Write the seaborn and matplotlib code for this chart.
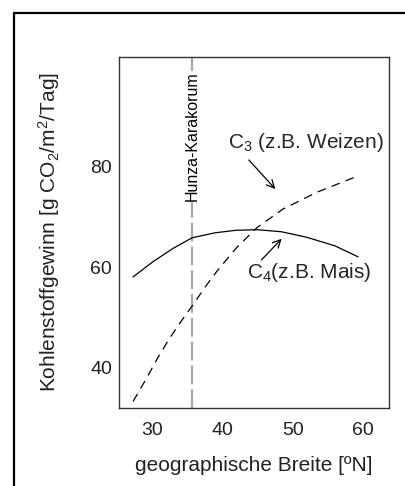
import numpy as np
import pandas as pd
import seaborn as sns
import matplotlib.pyplot as plt
from matplotlib.lines import Line2D

# Breitengrade und Kohlenstoffgewinn
c4_breite = [27.3, 30.0, 33.0, 35.7, 39.0, 42.0, 45.0, 48.4, 52.0, 56.0, 59.3]
c4_gewinn = [58.1, 61.0, 63.8, 65.9, 66.9, 67.4, 67.5, 67.1, 66.0, 64.3, 62.1]

c3_breite = [27.3, 29.0, 30.9, 32.5, 34.3, 35.8, 37.5, 39.2, 42.0, 44.9, 48.6, 53.5, 58.9]
c3_gewinn = [33.3, 37.4, 42.2, 45.9, 49.6, 52.5, 56.0, 59.2, 63.9, 67.9, 71.6, 75.0, 78.0]

hunza_breite = 35.7
x_ticks = [30, 40, 50, 60]
y_ticks = [40, 60, 80]

df_c4 = pd.DataFrame({"Breite": c4_breite, "Gewinn": c4_gewinn})
df_c3 = pd.DataFrame({"Breite": c3_breite, "Gewinn": c3_gewinn})

sns.set_theme(style="white")
plt.rcParams["font.family"] = ["Liberation Sans", "DejaVu Sans"]
plt.rcParams["mathtext.fontset"] = "custom"
plt.rcParams["mathtext.rm"] = "Liberation Sans"
plt.rcParams["mathtext.it"] = "Liberation Sans"

fig = plt.figure(figsize=(4.06, 4.86), dpi=100)
ax = fig.add_axes([119 / 406, 1 - 408 / 486, 270 / 406, 351 / 486])

# Rahmen der Abbildung (links und oben)
fig.add_artist(Line2D([14 / 406, 14 / 406], [0, 1 - 13 / 486], transform=fig.transFigure,
                      color="black", lw=1.6))
fig.add_artist(Line2D([14 / 406, 1], [1 - 13 / 486, 1 - 13 / 486], transform=fig.transFigure,
                      color="black", lw=1.6))

ax.axvline(hunza_breite, color="#a8a8a8", lw=1.6, linestyle=(0, (8.5, 2.2)), zorder=1)
ax.text(hunza_breite, 86.1, "Hunza-Karakorum", rotation=90, ha="center", va="center",
        fontsize=11.5, color="black", zorder=3,
        bbox=dict(facecolor="white", edgecolor="none", pad=0.5))

sns.lineplot(data=df_c4, x="Breite", y="Gewinn", ax=ax, color="black", lw=0.9, zorder=2)
sns.lineplot(data=df_c3, x="Breite", y="Gewinn", ax=ax, color="black", lw=0.9,
             linestyle=(0, (7, 5)), zorder=2)

ax.text(40.8, 84.8, r"C$_3$ (z.B. Weizen)", fontsize=15, ha="left", va="center")
ax.annotate("", xy=(47.8, 75.2), xytext=(43.5, 81.8),
            arrowprops=dict(arrowstyle="->", color="black", lw=0.9, mutation_scale=14))
ax.text(43.5, 58.9, r"C$_4$(z.B. Mais)", fontsize=15, ha="left", va="center")
ax.annotate("", xy=(48.7, 66.1), xytext=(45.3, 61.1),
            arrowprops=dict(arrowstyle="->", color="black", lw=0.9, mutation_scale=14))

ax.set_xlim(25.3, 63.7)
ax.set_ylim(32.0, 101.9)
ax.set_xticks(x_ticks)
ax.set_yticks(y_ticks)
ax.tick_params(axis="both", labelsize=14, length=0, colors="#222222")
ax.tick_params(axis="x", pad=10)
ax.tick_params(axis="y", pad=5)
ax.set_xlabel("geographische Breite [ºN]", fontsize=15, labelpad=12, color="#222222")
ax.set_ylabel(r"Kohlenstoffgewinn [g CO$_2$/m$^2$/Tag]", fontsize=15, labelpad=20,
              color="#222222")
for s in ax.spines.values():
    s.set_color("#333333")
    s.set_linewidth(1.0)

plt.savefig("out.png", dpi=100)
